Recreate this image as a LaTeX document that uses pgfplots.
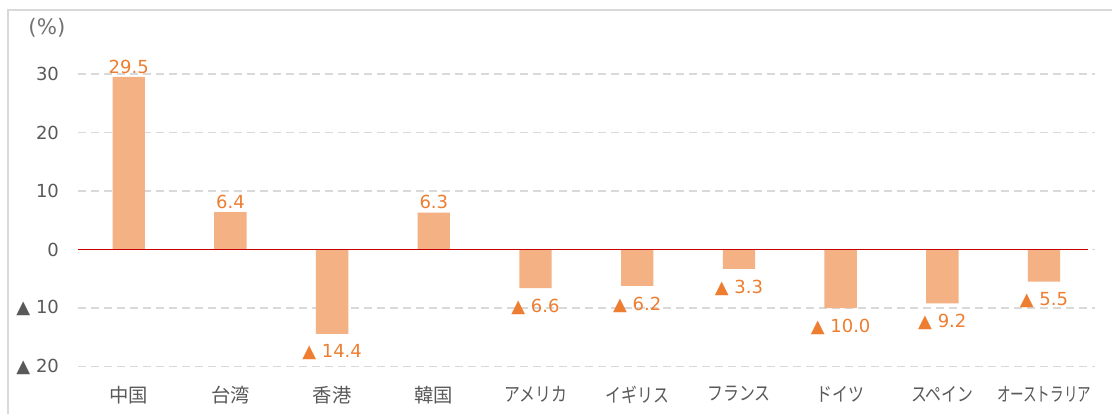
\documentclass[border=0pt]{standalone}
\usepackage{graphicx}
\usepackage{pgfplots}
\pgfplotsset{compat=1.18}
\usepackage{fontspec}
\setmainfont{DejaVu Sans}
\newfontfamily\jp{Noto Sans CJK JP}
\definecolor{barc}{HTML}{F4B183}
\definecolor{labc}{HTML}{ED7D31}
\definecolor{tickc}{HTML}{595959}
\definecolor{gridc}{HTML}{D9D9D9}
\definecolor{zeroc}{RGB}{200,0,0}
\newcommand{\sx}[2]{\scalebox{#1}[1]{#2}}
\begin{document}
\begin{tikzpicture}
\useasboundingbox (-58.4pt,-34.9pt) rectangle (775.6pt,274.9pt);
\draw[gridc, line width=1.5pt] (-52.4pt,-60pt) -- (-52.4pt,267.4pt) -- (800pt,267.4pt);
\node[text=tickc!85, font=\fontsize{16}{18}\selectfont] at (-23.2pt,253.9pt) {(\%)};
\begin{axis}[
  scale only axis,
  width=762.75pt, height=219.4pt,
  xmin=-0.5, xmax=9.5, ymin=-20, ymax=30,
  clip=false,
  axis line style={draw=none},
  major tick length=0pt,
  ytick={-20,-10,0,10,20,30},
  yticklabels={▲ 20,▲ 10,0,10,20,30},
  xtick={0,1,2,3,4,5,6,7,8,9},
  xticklabels={中国,台湾,香港,韓国,\sx{0.82}{アメリカ},\sx{0.82}{イギリス},\sx{0.82}{フランス},\sx{0.82}{ドイツ},\sx{0.82}{スペイン},\sx{0.7}{オーストラリア}},
  ymajorgrids,
  grid style={gridc, line width=1pt, dash pattern=on 6pt off 3.75pt},
  yticklabel style={anchor=east, inner sep=0pt, xshift=-14pt, text=tickc, font=\fontsize{13.5}{15}\selectfont},
  xticklabel style={anchor=north, inner sep=0pt, yshift=-14.5pt, text=tickc, font=\jp\fontsize{14.5}{16}\selectfont},
]
\addplot[ybar, bar width=0.318, bar shift=0pt, fill=barc, draw=none,
  nodes near coords, point meta=explicit symbolic,
  every node near coord/.append style={anchor=south, inner sep=0pt, yshift=2.5pt, text=labc, font=\fontsize{13.5}{15}\selectfont}]
  table[x=x, y=y, meta=lab, col sep=comma]{
x,y,lab
0,29.5,29.5
1,6.4,6.4
3,6.3,6.3
};
\addplot[ybar, bar width=0.318, bar shift=0pt, fill=barc, draw=none,
  nodes near coords, point meta=explicit symbolic,
  every node near coord/.append style={anchor=north, inner sep=0pt, yshift=-8pt, text=labc, font=\fontsize{13.5}{15}\selectfont}]
  table[x=x, y=y, meta=lab, col sep=comma]{
x,y,lab
2,-14.4,▲ 14.4
4,-6.6,▲ 6.6
5,-6.2,▲ 6.2
6,-3.3,▲ 3.3
7,-10.0,▲ 10.0
8,-9.2,▲ 9.2
9,-5.5,▲ 5.5
};
\draw[zeroc, line width=1pt] (axis cs:-0.5,0) -- (axis cs:9.43,0);
\end{axis}
\end{tikzpicture}
\end{document}
